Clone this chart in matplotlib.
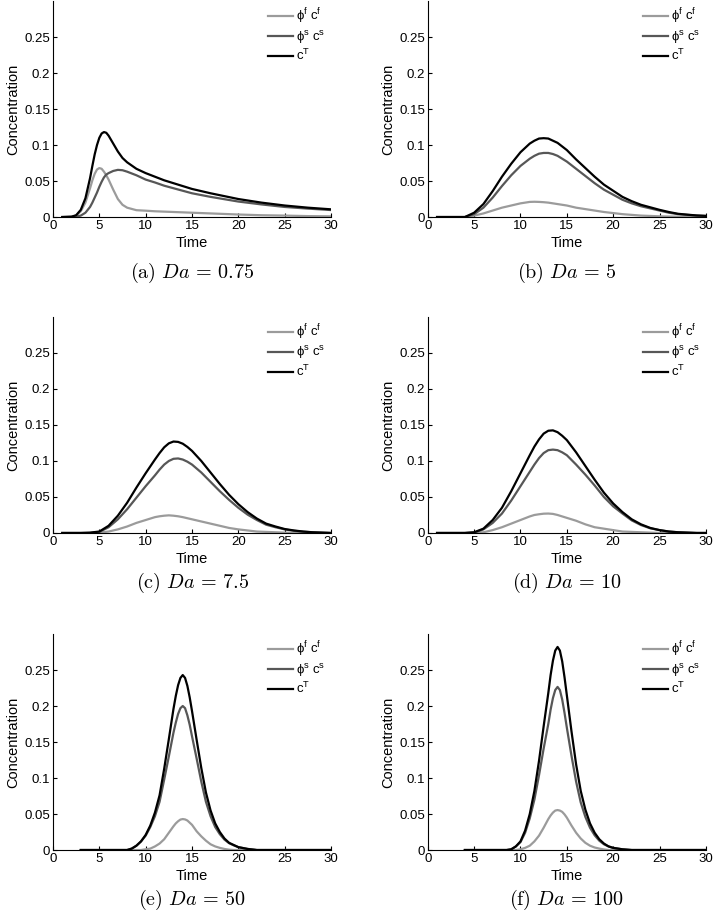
import matplotlib
matplotlib.use('Agg')
import matplotlib.pyplot as plt

plt.rcParams['font.family'] = ['Liberation Sans', 'DejaVu Sans']
plt.rcParams['mathtext.fontset'] = 'custom'
plt.rcParams['mathtext.rm'] = 'Liberation Sans'

# ---- data (time, phi_f c_f, phi_s c_s, c_T) ----
t_a = [1, 2, 2.5, 3, 3.5, 3.75, 4, 4.25, 4.5, 4.75, 5, 5.25, 5.5, 5.75, 6, 6.5, 7, 7.5, 8,
       9, 10, 11, 12, 13, 14, 15, 17, 20, 22.5, 25, 27.5, 30]
ff_a = [0, 0.0005, 0.002, 0.008, 0.020, 0.030, 0.040, 0.051, 0.060, 0.066, 0.068, 0.067, 0.063,
        0.058, 0.052, 0.038, 0.025, 0.017, 0.013,
        0.0095, 0.0088, 0.008, 0.0075, 0.007, 0.0065, 0.006, 0.005, 0.0035, 0.0025, 0.002, 0.0013, 0.001]
fs_a = [0, 0, 0.0005, 0.002, 0.006, 0.010, 0.014, 0.020, 0.027, 0.034, 0.042, 0.049, 0.055,
        0.059, 0.061, 0.064, 0.0655, 0.065, 0.063,
        0.058, 0.052, 0.048, 0.0435, 0.040, 0.0365, 0.033, 0.028, 0.0215, 0.0175, 0.014, 0.0117, 0.0097]
ct_a = [0, 0.0005, 0.0025, 0.010, 0.026, 0.040, 0.054, 0.071, 0.087, 0.100, 0.110, 0.116, 0.118,
        0.117, 0.113, 0.102, 0.091, 0.082, 0.076,
        0.067, 0.061, 0.056, 0.051, 0.047, 0.043, 0.039, 0.033, 0.025, 0.020, 0.016, 0.013, 0.0107]

t_bcd = [1, 2, 3, 4, 5, 6, 7, 8, 9, 10, 11, 11.5, 12, 12.5, 13, 13.5, 14, 14.5, 15, 16, 17, 18,
         19, 20, 21, 22, 23, 24, 25, 26, 27, 28, 29, 30]
ff_b = [0, 0, 0, 0, 0.002, 0.005, 0.009, 0.013, 0.016, 0.019, 0.021, 0.0212, 0.021, 0.0206, 0.020,
        0.019, 0.018, 0.017, 0.016, 0.013, 0.011, 0.009, 0.007, 0.0055, 0.004, 0.003, 0.002,
        0.0015, 0.001, 0.0007, 0.0005, 0.0003, 0.0002, 0.0001]
fs_b = [0, 0, 0, 0, 0.004, 0.013, 0.027, 0.043, 0.058, 0.071, 0.081, 0.085, 0.088, 0.089, 0.089,
        0.0875, 0.085, 0.081, 0.077, 0.067, 0.057, 0.047, 0.038, 0.031, 0.024, 0.019, 0.015,
        0.012, 0.009, 0.006, 0.004, 0.003, 0.002, 0.0015]
ct_b = [0, 0, 0, 0, 0.006, 0.018, 0.036, 0.056, 0.074, 0.090, 0.102, 0.106, 0.109, 0.1095, 0.109,
        0.106, 0.103, 0.098, 0.093, 0.080, 0.068, 0.056, 0.045, 0.0365, 0.028, 0.022, 0.017,
        0.0135, 0.010, 0.007, 0.0045, 0.0033, 0.0022, 0.0016]

ff_c = [0, 0, 0, 0, 0.0005, 0.002, 0.005, 0.009, 0.014, 0.018, 0.022, 0.0232, 0.024, 0.0245, 0.024,
        0.0232, 0.022, 0.0205, 0.019, 0.016, 0.013, 0.010, 0.007, 0.005, 0.0035, 0.002, 0.0015,
        0.001, 0.0005, 0, 0, 0, 0, 0]
fs_c = [0, 0, 0, 0, 0.0015, 0.008, 0.019, 0.033, 0.049, 0.065, 0.080, 0.088, 0.095, 0.100, 0.103,
        0.1035, 0.102, 0.099, 0.095, 0.084, 0.071, 0.058, 0.046, 0.035, 0.0255, 0.018, 0.0115,
        0.008, 0.005, 0.003, 0.0018, 0.001, 0.0005, 0]
ct_c = [0, 0, 0, 0.0005, 0.002, 0.010, 0.024, 0.042, 0.063, 0.083, 0.102, 0.111, 0.119, 0.1245, 0.127,
        0.1265, 0.124, 0.1195, 0.114, 0.100, 0.084, 0.068, 0.053, 0.040, 0.029, 0.020, 0.013,
        0.009, 0.0055, 0.0035, 0.002, 0.001, 0.0005, 0]

ff_d = [0, 0, 0, 0, 0.0005, 0.001, 0.004, 0.008, 0.013, 0.018, 0.023, 0.025, 0.026, 0.0268, 0.027,
        0.0265, 0.025, 0.023, 0.021, 0.017, 0.012, 0.008, 0.006, 0.004, 0.002, 0.0015, 0.001,
        0.0005, 0, 0, 0, 0, 0, 0]
fs_d = [0, 0, 0, 0, 0.0005, 0.005, 0.014, 0.027, 0.045, 0.065, 0.085, 0.095, 0.104, 0.111, 0.115,
        0.1158, 0.115, 0.112, 0.108, 0.095, 0.081, 0.066, 0.050, 0.037, 0.027, 0.0175, 0.011,
        0.0065, 0.004, 0.002, 0.001, 0.0005, 0, 0]
ct_d = [0, 0, 0, 0, 0.001, 0.006, 0.018, 0.035, 0.058, 0.083, 0.108, 0.120, 0.130, 0.138, 0.142,
        0.1425, 0.140, 0.135, 0.129, 0.112, 0.093, 0.074, 0.056, 0.041, 0.029, 0.019, 0.012,
        0.007, 0.004, 0.002, 0.001, 0.0005, 0, 0]

t_e = [3, 8, 8.5, 9, 9.5, 10, 10.5, 11, 11.5, 12, 12.5, 13, 13.25, 13.5, 13.75, 14, 14.25, 14.5,
       14.75, 15, 15.5, 16, 16.5, 17, 17.5, 18, 18.5, 19, 19.5, 20, 21, 22, 30]
ff_e = [0, 0, 0, 0, 0, 0.001, 0.002, 0.005, 0.009, 0.015, 0.024, 0.033, 0.037, 0.040, 0.0423, 0.043,
        0.0425, 0.041, 0.038, 0.035, 0.026, 0.019, 0.013, 0.008, 0.005, 0.003, 0.0015, 0.0005,
        0, 0, 0, 0, 0]
fs_e = [0, 0, 0.002, 0.006, 0.012, 0.020, 0.032, 0.047, 0.067, 0.098, 0.130, 0.163, 0.177, 0.189,
        0.197, 0.200, 0.197, 0.187, 0.174, 0.158, 0.127, 0.095, 0.067, 0.047, 0.032, 0.022,
        0.0145, 0.0095, 0.0065, 0.004, 0.0015, 0, 0]
ct_e = [0, 0, 0.002, 0.006, 0.012, 0.021, 0.034, 0.052, 0.076, 0.113, 0.154, 0.196, 0.214, 0.229,
        0.239, 0.243, 0.239, 0.228, 0.212, 0.193, 0.153, 0.114, 0.080, 0.055, 0.037, 0.025,
        0.016, 0.010, 0.007, 0.004, 0.0015, 0, 0]

t_f = [4, 8.5, 9, 9.5, 10, 10.5, 11, 11.5, 12, 12.5, 13, 13.25, 13.5, 13.75, 14, 14.25, 14.5,
       14.75, 15, 15.5, 16, 16.5, 17, 17.5, 18, 18.5, 19, 19.5, 20, 21, 22, 30]
ff_f = [0, 0, 0, 0, 0.001, 0.003, 0.006, 0.012, 0.020, 0.031, 0.043, 0.048, 0.052, 0.0548, 0.0555,
        0.0548, 0.053, 0.0495, 0.045, 0.034, 0.024, 0.016, 0.010, 0.006, 0.0035, 0.002, 0.0008,
        0, 0, 0, 0, 0]
fs_f = [0, 0, 0.001, 0.005, 0.011, 0.024, 0.044, 0.070, 0.104, 0.141, 0.175, 0.195, 0.211, 0.2222,
        0.2265, 0.2222, 0.209, 0.1905, 0.170, 0.131, 0.095, 0.066, 0.046, 0.031, 0.0205, 0.013,
        0.008, 0.005, 0.003, 0.001, 0, 0]
ct_f = [0, 0, 0.001, 0.005, 0.012, 0.027, 0.050, 0.082, 0.124, 0.172, 0.218, 0.243, 0.263, 0.277,
        0.282, 0.277, 0.262, 0.240, 0.215, 0.165, 0.119, 0.082, 0.056, 0.037, 0.024, 0.015,
        0.009, 0.005, 0.003, 0.001, 0, 0]

captions = ['(a)', '(b)', '(c)', '(d)', '(e)', '(f)']
da_values = ['0.75', '5', '7.5', '10', '50', '100']
panels = [(t_a, ff_a, fs_a, ct_a), (t_bcd, ff_b, fs_b, ct_b), (t_bcd, ff_c, fs_c, ct_c),
          (t_bcd, ff_d, fs_d, ct_d), (t_e, ff_e, fs_e, ct_e), (t_f, ff_f, fs_f, ct_f)]

labels = ['ϕ$^\\mathregular{f}$ c$^\\mathregular{f}$',
          'ϕ$^\\mathregular{s}$ c$^\\mathregular{s}$',
          'c$^\\mathregular{T}$']
colors = ['#9b9b9b', '#575757', '#000000']

yticks = [0, 0.05, 0.1, 0.15, 0.2, 0.25]
ytick_labels = ['0', '0.05', '0.1', '0.15', '0.2', '0.25']
xticks = [0, 5, 10, 15, 20, 25, 30]

fig = plt.figure(figsize=(7.13, 9.10), dpi=100)

col_left = [0.0743, 0.600]
row_bottom = [0.7615, 0.4143, 0.0659]
cap_y = [0.700, 0.3593, 0.0115]
w = 0.39
h = 0.2374

for i, (tt, ff, fs, ct) in enumerate(panels):
    r = i // 2
    c = i % 2
    ax = fig.add_axes([col_left[c], row_bottom[r], w, h])
    for y, col, lab in zip([ff, fs, ct], colors, labels):
        ax.plot(tt, y, color=col, linewidth=1.6, label=lab, solid_joinstyle='round')
    ax.set_xlim(0, 30)
    ax.set_ylim(0, 0.3)
    ax.set_xticks(xticks)
    ax.set_yticks(yticks)
    ax.set_yticklabels(ytick_labels)
    ax.spines['top'].set_visible(False)
    ax.spines['right'].set_visible(False)
    ax.tick_params(direction='in', length=3, width=0.8, labelsize=9.5, pad=2)
    ax.set_xlabel('Time', fontsize=10.5, labelpad=3)
    ax.set_ylabel('Concentration', fontsize=10.5, labelpad=3)
    leg = ax.legend(loc='upper right', frameon=False, fontsize=9.5, handlelength=1.9,
                    handletextpad=0.25, labelspacing=0.2, borderaxespad=0.1, borderpad=0.3)
    x_mid = col_left[c] + w / 2
    fig.text(x_mid, cap_y[r], r'$\mathrm{' + captions[i] + r'}\ Da\,=\,' + da_values[i] + '$',
             ha='center', va='center', fontsize=14.5, math_fontfamily='cm')

fig.savefig('out.png', dpi=100)
